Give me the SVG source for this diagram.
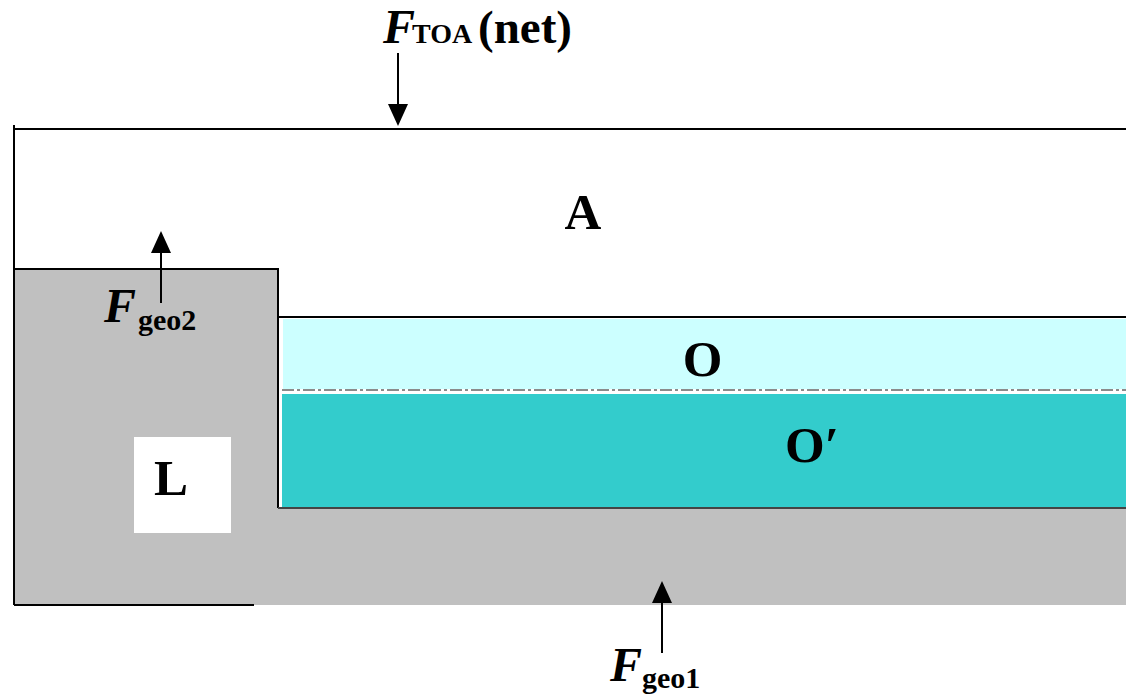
<svg xmlns="http://www.w3.org/2000/svg" width="1126" height="695" viewBox="0 0 1126 695">
<style>
.ln{stroke:#000;stroke-width:2;fill:none}
.t{font-family:"Liberation Serif","Times New Roman",serif;font-weight:bold;fill:#000}
.big{font-size:51px}
.fi{font-style:italic;font-size:48px}
.sub{font-size:30px}
.ar{stroke:#000;stroke-width:2}
</style>
<defs>
<marker id="ah" markerWidth="22" markerHeight="20" refX="20" refY="10" orient="auto" markerUnits="userSpaceOnUse" viewBox="0 0 22 20">
<path d="M0,0 L22,10 L0,20 Z" fill="#000"/>
</marker>
</defs>
<rect width="1126" height="695" fill="#fff"/>
<g id="ground">
<rect x="254" y="508" width="872" height="97" fill="#C0C0C0"/>
</g>
<g id="land">
<rect x="14" y="269" width="264" height="336" fill="#C0C0C0"/>
<path class="ln" d="M14,269 H278 V508"/>
<path class="ln" d="M14,605 H254"/>
<rect x="134" y="437" width="97" height="96" fill="#fff"/>
<text class="t big" x="171" y="495" text-anchor="middle">L</text>
</g>
<g id="ocean">
<rect x="279" y="318" width="847" height="190" fill="#fff"/>
<rect x="283" y="319" width="843" height="70" fill="#CCFFFF"/>
<rect x="282" y="394" width="844" height="113" fill="#33CCCC"/>
<path class="ln" d="M278,317 H1126"/>
<path d="M282,390 H1126" stroke="#666" stroke-width="1.5" stroke-dasharray="12,3,3,3" fill="none"/>
<path class="ln" d="M278,508 H1126" style="stroke:#444"/>
<text class="t big" x="702.5" y="376" text-anchor="middle">O</text>
<text class="t big" x="785" y="462">O′</text>
</g>
<g id="atmosphere">
<path class="ln" d="M14,125 V605"/>
<path class="ln" d="M15,129 H1126"/>
<text class="t big" x="583" y="229" text-anchor="middle">A</text>
</g>
<g id="connectors">
<line class="ar" x1="398" y1="53" x2="398" y2="124" marker-end="url(#ah)"/>
<line class="ar" x1="161" y1="303" x2="161" y2="233" marker-end="url(#ah)"/>
<line class="ar" x1="662" y1="653" x2="662" y2="583" marker-end="url(#ah)"/>
</g>
<g id="labels">
<text class="t" y="43"><tspan class="fi" x="383">F</tspan><tspan x="412" font-size="28px">TOA</tspan><tspan x="478" font-size="47px">(net)</tspan></text>
<text class="t" y="322"><tspan class="fi" x="104">F</tspan><tspan class="sub" x="138" y="330">geo2</tspan></text>
<text class="t" y="681"><tspan class="fi" x="610">F</tspan><tspan class="sub" x="642" y="688">geo1</tspan></text>
</g>
</svg>
